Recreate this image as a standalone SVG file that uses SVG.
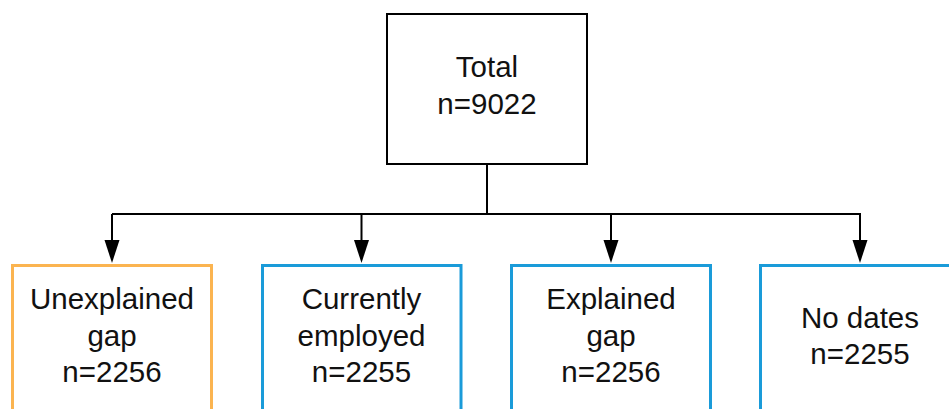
<svg xmlns="http://www.w3.org/2000/svg" width="949" height="409" viewBox="0 0 949 409">
<defs>
<style>
.t{font-family:"Liberation Sans",Arial,sans-serif;font-size:29.5px;fill:#111;text-anchor:middle}
.box{fill:#fff;stroke-width:3}
.orange{stroke:#FBB450}
.blue{stroke:#1A9BD9}
.conn{fill:none;stroke:#000;stroke-width:2}
</style>
</defs>
<rect width="949" height="409" fill="#fff"/>
<g id="connectors">
<path class="conn" d="M487,164 V214"/>
<path class="conn" d="M112,214 H861"/>
<path d="M112,214 V240" class="conn"/>
<path d="M104.5,240 H119.5 L112,263 Z"/>
<path d="M361.5,214 V240" class="conn"/>
<path d="M354,240 H369 L361.5,263 Z"/>
<path d="M611,214 V240" class="conn"/>
<path d="M603.5,240 H618.5 L611,263 Z"/>
<path d="M860,214 V240" class="conn"/>
<path d="M852.5,240 H867.5 L860,263 Z"/>
</g>
<g id="total">
<rect x="387" y="14" width="200" height="150" fill="#fff" stroke="#000" stroke-width="2"/>
<text class="t" x="487" y="77">Total</text>
<text class="t" x="487" y="114">n=9022</text>
</g>
<g id="unexplained">
<rect class="box orange" x="12.5" y="265.5" width="199" height="160"/>
<text class="t" x="112" y="309">Unexplained</text>
<text class="t" x="112" y="345.5">gap</text>
<text class="t" x="112" y="382">n=2256</text>
</g>
<g id="employed">
<rect class="box blue" x="262.5" y="265.5" width="198.5" height="160"/>
<text class="t" x="361.5" y="309">Currently</text>
<text class="t" x="361.5" y="345.5">employed</text>
<text class="t" x="361.5" y="382">n=2255</text>
</g>
<g id="explained">
<rect class="box blue" x="511.5" y="265.5" width="199" height="160"/>
<text class="t" x="611" y="309">Explained</text>
<text class="t" x="611" y="345.5">gap</text>
<text class="t" x="611" y="382">n=2256</text>
</g>
<g id="nodates">
<rect class="box blue" x="760.5" y="265.5" width="199" height="160"/>
<text class="t" x="860" y="328">No dates</text>
<text class="t" x="860" y="364">n=2255</text>
</g>
</svg>
